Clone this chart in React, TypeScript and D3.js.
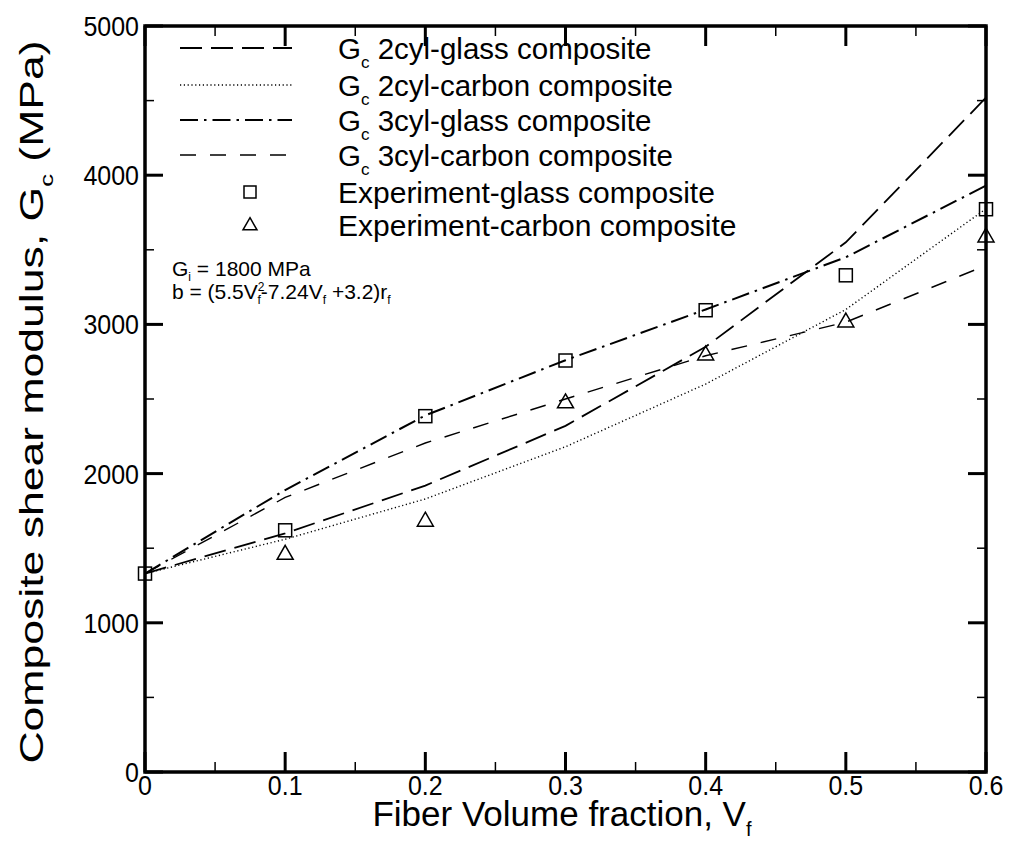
import React from "react";
import * as d3 from "d3";

const vf = [0, 0.1, 0.2, 0.3, 0.4, 0.5, 0.6];
const glass2cyl = [1330, 1600, 1920, 2320, 2850, 3550, 4520];
const carbon2cyl = [1330, 1560, 1830, 2180, 2600, 3100, 3775];
const glass3cyl = [1330, 1890, 2390, 2760, 3100, 3450, 3930];
const carbon3cyl = [1330, 1840, 2205, 2500, 2790, 3015, 3395];
const expGlassVf = [0, 0.1, 0.2, 0.3, 0.4, 0.5, 0.6];
const expGlass = [1330, 1620, 2385, 2758, 3095, 3329, 3772];
const expCarbonVf = [0.1, 0.2, 0.3, 0.4, 0.5, 0.6];
const expCarbon = [1463, 1685, 2478, 2799, 3020, 3590];

const xMajor = [0, 0.1, 0.2, 0.3, 0.4, 0.5, 0.6];
const xMinor = [0.05, 0.15, 0.25, 0.35, 0.45, 0.55];
const yMajor = [0, 1000, 2000, 3000, 4000, 5000];
const yMinor = [500, 1500, 2500, 3500, 4500];

const FONT = "'Liberation Sans', Arial, Helvetica, sans-serif";

const L = 145, R = 986, T = 26, B = 772;

export default function App() {
  const x = d3.scaleLinear().domain([0, 0.6]).range([L, R]);
  const y = d3.scaleLinear().domain([0, 5000]).range([B, T]);
  const line = d3
    .line<[number, number]>()
    .x((d) => x(d[0]))
    .y((d) => y(d[1]));
  const pts = (vals: number[], xs = vf) => vals.map((v, i) => [xs[i], v] as [number, number]);

  const series = [
    { name: "2cyl-glass composite", vals: glass2cyl, dash: "22,9", w: 1.8 },
    { name: "2cyl-carbon composite", vals: carbon2cyl, dash: "1.2,2.6", w: 1.4 },
    { name: "3cyl-glass composite", vals: glass3cyl, dash: "18,6,2.5,6", w: 2 },
    { name: "3cyl-carbon composite", vals: carbon3cyl, dash: "16,14", w: 1.4 },
  ];

  const sq = (cx: number, cy: number, s = 13) => (
    <rect x={cx - s / 2} y={cy - s / 2} width={s} height={s} fill="none" stroke="#000" strokeWidth={1.5} />
  );
  const tri = (cx: number, cy: number, s = 16) => {
    const h = s * 0.87;
    const p = d3.path();
    p.moveTo(cx, cy - h * 0.6);
    p.lineTo(cx + s / 2, cy + h * 0.4);
    p.lineTo(cx - s / 2, cy + h * 0.4);
    p.closePath();
    return <path d={p.toString()} fill="none" stroke="#000" strokeWidth={1.5} />;
  };

  const legendBase = [59, 96, 131, 166];
  const legX1 = 180, legX2 = 292, legText = 338;

  return (
    <svg width={1012} height={850} style={{ position: "absolute", left: 0, top: 0, background: "#fff" }} fontFamily={FONT}>
      <rect x={0} y={0} width={1012} height={850} fill="#fff" />
      {/* series lines */}
      {series.map((s, i) => (
        <path key={i} d={line(pts(s.vals)) || ""} fill="none" stroke="#000" strokeWidth={s.w} strokeDasharray={s.dash} />
      ))}
      {/* markers */}
      {expGlass.map((v, i) => (
        <g key={"g" + i}>{sq(x(expGlassVf[i]), y(v))}</g>
      ))}
      {expCarbon.map((v, i) => (
        <g key={"c" + i}>{tri(x(expCarbonVf[i]), y(v))}</g>
      ))}

      {/* ticks */}
      {yMajor.map((v) => (
        <g key={"ym" + v}>
          <line x1={L} x2={L + 18} y1={y(v)} y2={y(v)} stroke="#000" strokeWidth={3} />
          <line x1={R} x2={R - 18} y1={y(v)} y2={y(v)} stroke="#000" strokeWidth={3} />
          <text transform={`translate(139,${y(v) + 10}) scale(1,1.12)`} fontSize={25} textAnchor="end">{v}</text>
        </g>
      ))}
      {yMinor.map((v) => (
        <g key={"yn" + v}>
          <line x1={L} x2={L + 9} y1={y(v)} y2={y(v)} stroke="#000" strokeWidth={1.5} />
          <line x1={R} x2={R - 9} y1={y(v)} y2={y(v)} stroke="#000" strokeWidth={1.5} />
        </g>
      ))}
      {xMajor.map((v) => (
        <g key={"xm" + v}>
          <line x1={x(v)} x2={x(v)} y1={B} y2={B - 20} stroke="#000" strokeWidth={3} />
          <line x1={x(v)} x2={x(v)} y1={T} y2={T + 20} stroke="#000" strokeWidth={3} />
          <text transform={`translate(${x(v)},${B + 23}) scale(1,1.1)`} fontSize={25} textAnchor="middle">{String(v)}</text>
        </g>
      ))}
      {xMinor.map((v) => (
        <g key={"xn" + v}>
          <line x1={x(v)} x2={x(v)} y1={B} y2={B - 10} stroke="#000" strokeWidth={1.5} />
          <line x1={x(v)} x2={x(v)} y1={T} y2={T + 10} stroke="#000" strokeWidth={1.5} />
        </g>
      ))}

      {/* frame */}
      <rect x={L} y={T} width={R - L} height={B - T} fill="none" stroke="#000" strokeWidth={3.5} />

      {/* legend */}
      {series.map((s, i) => (
        <g key={"l" + i}>
          <line x1={legX1} x2={legX2} y1={legendBase[i] - 11} y2={legendBase[i] - 11} stroke="#000" strokeWidth={s.w} strokeDasharray={s.dash} />
          <text x={legText} y={legendBase[i]} fontSize={29.5}>
            G<tspan fontSize={17} dy={9}>c</tspan>
            <tspan dy={-9}> {s.name}</tspan>
          </text>
        </g>
      ))}
      {sq(250, 192, 12)}
      <text x={legText} y={203} fontSize={30}>Experiment-glass composite</text>
      {tri(250, 225, 14)}
      <text x={legText} y={236} fontSize={30}>Experiment-carbon composite</text>

      {/* annotation */}
      <text x={172} y={276} fontSize={21}>
        G<tspan fontSize={12} dy={5}>i</tspan>
        <tspan dy={-5}> = 1800 MPa</tspan>
      </text>
      <text x={172} y={299} fontSize={21}>
        b = (5.5V<tspan fontSize={12} dy={-8}>2</tspan>
        <tspan fontSize={12} dx={-7} dy={13}>f</tspan>
        <tspan dy={-5}>-7.24V</tspan>
        <tspan fontSize={12} dy={5}>f</tspan>
        <tspan dy={-5}> +3.2)r</tspan>
        <tspan fontSize={12} dy={5}>f</tspan>
      </text>

      {/* axis titles */}
      <text x={562} y={826} fontSize={35} textAnchor="middle">
        Fiber Volume fraction, V<tspan fontSize={20} dy={10}>f</tspan>
      </text>
      <text transform={`translate(43,402) rotate(-90) scale(1.35,1)`} fontSize={33} textAnchor="middle">
        Composite shear modulus, G<tspan fontSize={19} dy={10}>c</tspan>
        <tspan dy={-10}> (MPa)</tspan>
      </text>
    </svg>
  );
}
